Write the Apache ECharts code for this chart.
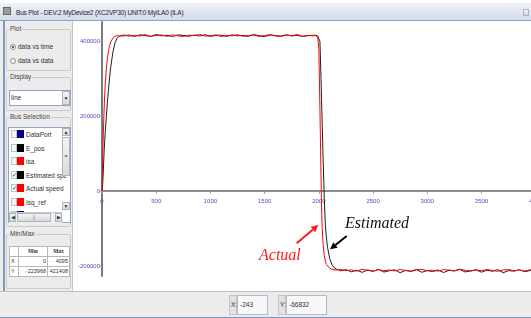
<!DOCTYPE html>
<html>
<head>
<meta charset="utf-8">
<script src="https://cdn.jsdelivr.net/npm/echarts@6/dist/echarts.min.js"></script>
<style>
html, body { margin: 0; padding: 0; width: 531px; height: 318px; overflow: hidden; background: #fff; font-family: "Liberation Sans", Arial, sans-serif; color: #333; }
.a { position: absolute; }
#title { left: 0; top: 3px; width: 531px; height: 17px; background: linear-gradient(#eef2f8, #d3dcec); border-bottom: 1px solid #8ea3c6; }
#title span { position: absolute; left: 16px; top: 6px; font-size: 6.5px; line-height: 8px; color: #222; letter-spacing: -0.2px; }
#icon { left: 3px; top: 7px; width: 8px; height: 8px; background: #9a9a9a; border: 1px solid #666; box-sizing: border-box; }
#side { left: 0; top: 21px; width: 73px; height: 270px; background: #ececec; border-right: 1px solid #c4c4c4; box-sizing: border-box; }
#edge { left: 3px; top: 21px; width: 2px; height: 297px; background: #7d98c6; }
.grp { position: absolute; border: 1px solid #cacaca; border-radius: 2px; box-sizing: border-box; }
.gt { position: absolute; background: #ececec; padding: 0 1px; font-size: 6.5px; line-height: 8px; color: #444; }
.t { position: absolute; font-size: 6.5px; line-height: 8px; color: #333; white-space: nowrap; }
.rb { position: absolute; width: 6px; height: 6px; border: 1px solid #8a8a8a; border-radius: 50%; background: #fff; box-sizing: border-box; }
.rb.on::after { content: ""; position: absolute; left: 1px; top: 1px; width: 2px; height: 2px; border-radius: 50%; background: #222; }
.box { position: absolute; background: #fff; border: 1px solid #8fa6c4; box-sizing: border-box; }
.btn { position: absolute; background: linear-gradient(#f4f4f4, #d8d8d8); border: 1px solid #a9b4c4; box-sizing: border-box; font-size: 5px; line-height: 7px; text-align: center; color: #333; }
.row { position: absolute; left: 1px; height: 13px; width: 53px; }
.cb { position: absolute; left: 1px; top: 2px; width: 6px; height: 8px; background: #f6f8fb; border: 1px solid #b8c4d4; box-sizing: border-box; font-size: 6px; line-height: 6px; color: #222; }
.sw { position: absolute; left: 7px; top: 2px; width: 7px; height: 8px; }
.row .t { left: 16px; top: 3px; }
table { border-collapse: collapse; font-size: 5.5px; }
td { border: 1px solid #b8b8b8; padding: 0 1px; height: 9px; line-height: 9px; }
#status { left: 0; top: 291px; width: 531px; height: 26px; background: #ececec; border-top: 1px solid #c0c0c0; box-sizing: border-box; }
#bottomline { left: 0; top: 317px; width: 531px; height: 1px; background: #7d98c6; }
.lab { position: absolute; top: 3px; height: 20px; background: #e2e2e2; border: 1px solid #c6c6c6; box-sizing: border-box; font-size: 6.5px; line-height: 18px; padding-left: 1px; }
.fld { position: absolute; top: 3px; height: 20px; background: #f8f8f8; border: 1px solid #a8bcd6; box-sizing: border-box; font-size: 6.5px; line-height: 18px; padding-left: 2px; }
#plotwrap { left: 73px; top: 21px; width: 458px; height: 270px; overflow: hidden; background: #fff; }
#chart { position: absolute; left: 0; top: 0; width: 480px; height: 270px; }
</style>
</head>
<body>
<div class="a" id="title"><span>Bus Plot - DEV:2 MyDevice2 (XC2VP30) UNIT:0 MyILA0 (ILA)</span></div>
<div class="a" id="icon"></div>
<div class="btn" style="left:523px;top:9px;width:6px;height:7px;"></div>

<div class="a" id="side"></div>
<div class="a" id="edge"></div>

<!-- Plot group -->
<div class="grp" style="left:6px;top:29px;width:65px;height:42px;"></div>
<div class="gt" style="left:9px;top:25px;">Plot</div>
<div class="rb on" style="left:10px;top:44px;"></div>
<div class="t" style="left:18px;top:43px;">data vs time</div>
<div class="rb" style="left:10px;top:58px;"></div>
<div class="t" style="left:18px;top:57px;">data vs data</div>

<!-- Display group -->
<div class="grp" style="left:6px;top:77px;width:65px;height:34px;"></div>
<div class="gt" style="left:9px;top:73px;">Display</div>
<div class="box" style="left:9px;top:90px;width:62px;height:16px;"></div>
<div class="t" style="left:11px;top:94px;">line</div>
<div class="btn" style="left:62px;top:91px;width:8px;height:14px;line-height:13px;">&#9660;</div>

<!-- Bus selection group -->
<div class="grp" style="left:6px;top:117px;width:65px;height:110px;"></div>
<div class="gt" style="left:9px;top:113px;">Bus Selection</div>
<div class="box" style="left:8px;top:127px;width:63px;height:96px;overflow:hidden;" id="list"></div>
<div class="btn" style="left:62px;top:128px;width:8px;height:8px;">&#9650;</div>
<div class="btn" style="left:62px;top:137px;width:8px;height:39px;line-height:36px;">=</div>
<div class="btn" style="left:62px;top:202px;width:8px;height:8px;">&#9660;</div>
<div class="a" style="left:9px;top:212px;width:53px;height:10px;background:#eef0f3;border-top:1px solid #c8c8c8;"></div>
<div class="btn" style="left:9px;top:213px;width:7px;height:9px;">&#9664;</div>
<div class="btn" style="left:17px;top:213px;width:34px;height:9px;">|</div>
<div class="btn" style="left:55px;top:213px;width:7px;height:9px;">&#9654;</div>

<!-- Min/Max group -->
<div class="grp" style="left:6px;top:234px;width:65px;height:55px;"></div>
<div class="gt" style="left:9px;top:230px;">Min/Max</div>
<div class="a" style="left:9px;top:246px;width:61px;background:#fff;">
<table style="width:61px;">
<tr style="font-family:'Liberation Serif',serif;font-weight:bold;"><td style="width:6px"></td><td style="text-align:center;width:26px">Min</td><td style="text-align:center">Max</td></tr>
<tr><td>X</td><td style="text-align:right">0</td><td style="text-align:right">4095</td></tr>
<tr><td>Y</td><td style="text-align:right">-223968</td><td style="text-align:right">421408</td></tr>
</table>
</div>

<div class="a" id="plotwrap"><div id="chart"></div></div>

<div class="a" id="status">
  <div class="lab" style="left:229px;width:8px;">X:</div>
  <div class="fld" style="left:237px;width:31px;">-243</div>
  <div class="lab" style="left:278px;width:8px;">Y:</div>
  <div class="fld" style="left:286px;width:41px;">-66832</div>
</div>
<div class="a" id="bottomline"></div>

<script>
// sample time (x) shared by both traces
const time = [
  0, 5, 10, 15, 20, 25, 30, 40, 50, 60, 70, 80, 100, 120, 140, 160,
  200, 250, 300, 350, 400, 450, 500, 550, 600, 650, 700, 750, 800, 850, 900, 950,
  1000, 1050, 1100, 1150, 1200, 1250, 1300, 1350, 1400, 1450, 1500, 1550, 1600, 1650,
  1700, 1750, 1800, 1850, 1900, 1950,
  1970, 1980, 1990, 2000, 2010, 2020, 2025, 2030, 2040, 2050, 2060, 2070, 2080, 2100,
  2120, 2140, 2160, 2180,
  2200, 2250, 2300, 2350, 2400, 2450, 2500, 2550, 2600, 2650, 2700, 2750, 2800, 2850,
  2900, 2950, 3000, 3050, 3100, 3150, 3200, 3250, 3300, 3350, 3400, 3450, 3500, 3550,
  3600, 3650, 3700, 3750, 3800, 3850, 3900, 3950, 4000, 4050, 4095
];

// Actual speed (red)
const actualSpeed = [
  0, 70000, 130000, 180000, 222000, 257000, 285000, 327000, 356000, 375000,
  389000, 398000, 408000, 413000, 415500, 414000,
  417000, 413500, 416200, 414100, 418000, 412900, 415800, 416900, 413200, 417400,
  414600, 412800, 416500, 415200, 418300, 413700, 414900, 417100, 412600, 416000,
  414300, 417800, 413400, 415600, 416700, 412900, 415300, 417600, 414000, 413100,
  416400, 415000, 417900, 413600, 414800, 416300,
  415500, 414000, 410000, 380000, 220000, 40000, -40000, -95000, -145000, -172000,
  -187000, -196000, -201000, -206000, -208500, -210000, -211000, -209500,
  -209000, -212500, -210200, -213800, -208700, -211600, -214000, -209900, -212200, -210800,
  -213300, -209300, -211900, -214500, -210400, -208900, -212700, -211200, -213600, -209700,
  -210900, -212900, -208600, -211400, -213900, -210100, -212400, -209500, -211700, -214200,
  -210600, -209200, -212800, -211000, -213400, -209800, -212100, -210500, -211300
];

// Estimated speed (black)
const estimatedSpeed = [
  0, 12000, 40000, 75000, 108000, 135000, 158000, 198000, 238000, 272000,
  303000, 330000, 370000, 396000, 408000, 414000,
  414500, 416800, 412700, 417300, 415100, 413000, 418200, 414400, 416100, 412500,
  417000, 415700, 413300, 416600, 414200, 417700, 413000, 415900, 416400, 412800,
  417200, 414700, 415500, 413200, 418000, 414900, 412600, 416900, 415300, 413800,
  417400, 414100, 416200, 412900, 415800, 414600,
  416000, 415000, 414500, 413000, 400000, 300000, 245000, 190000, 80000, -20000,
  -90000, -125000, -150000, -180000, -196000, -204000, -208000, -210500,
  -213000, -209800, -215500, -211200, -217000, -210400, -214300, -208900, -216200, -212600,
  -210100, -218000, -211800, -213900, -209500, -216800, -212200, -214700, -210700, -217400,
  -211500, -213200, -209100, -215900, -212900, -210300, -216500, -211100, -214100, -209700,
  -217800, -212400, -213600, -210000, -215200, -211900, -214800, -210600, -213100
];

const xTicks = [0, 500, 1000, 1500, 2000, 2500, 3000, 3500, 4000];
const yTicks = [-200000, 0, 200000, 400000];
const yMin = -226700, yMax = 451500;

function arrow(x1, y1, x2, y2, color) {
  const dx = x2 - x1, dy = y2 - y1, len = Math.hypot(dx, dy);
  const ux = dx / len, uy = dy / len;
  const hl = 7, hw = 3.5;
  const bx = x2 - ux * hl, by = y2 - uy * hl;
  return [
    { type: 'line', shape: { x1: x1, y1: y1, x2: bx, y2: by }, style: { stroke: color, lineWidth: 2 } },
    { type: 'polygon', shape: { points: [[x2, y2], [bx - uy * hw, by + ux * hw], [bx + uy * hw, by - ux * hw]] }, style: { fill: color } }
  ];
}

const gridTop = 1, gridBottom = 15, chartH = 270;
const gridH = chartH - gridTop - gridBottom;
// shift x axis (line, ticks, labels) up to the y = 0 level
const xOffset = -(0 - yMin) / (yMax - yMin) * gridH;

const chart = echarts.init(document.getElementById('chart'), null, { renderer: 'canvas' });
const labelColor = '#4c4cc8';

chart.setOption({
  animation: false,
  backgroundColor: '#fff',
  grid: { left: 29, right: 7, top: gridTop, bottom: gridBottom },
  xAxis: {
    type: 'value',
    min: 0,
    max: 4095,
    position: 'bottom',
    offset: xOffset,
    axisLine: { onZero: false, lineStyle: { color: '#8c8c8c', width: 2 } },
    axisTick: { show: true, customValues: xTicks, length: 3, lineStyle: { color: '#aaa' } },
    axisLabel: { customValues: xTicks, color: labelColor, fontSize: 6, margin: 7, fontFamily: 'Liberation Sans', formatter: v => String(v) },
    splitLine: { show: false }
  },
  yAxis: {
    type: 'value',
    min: yMin,
    max: yMax,
    axisLine: { show: true, onZero: false, lineStyle: { color: '#7a7a7a', width: 2 } },
    axisTick: { show: true, customValues: yTicks, length: 2, lineStyle: { color: '#aaa' } },
    axisLabel: { customValues: yTicks, color: labelColor, fontSize: 6, margin: 2, fontFamily: 'Liberation Sans', formatter: v => String(v) },
    splitLine: { show: false }
  },
  series: [
    {
      name: 'Estimated speed',
      type: 'line',
      showSymbol: false,
      data: time.map((t, i) => [t, estimatedSpeed[i]]),
      lineStyle: { color: '#1e1e1e', width: 1 },
      itemStyle: { color: '#1e1e1e' }
    },
    {
      name: 'Actual speed',
      type: 'line',
      showSymbol: false,
      data: time.map((t, i) => [t, actualSpeed[i]]),
      lineStyle: { color: '#ff0000', width: 1 },
      itemStyle: { color: '#ff0000' }
    }
  ],
  graphic: [
    { type: 'text', x: 186, y: 235, style: { text: 'Actual', font: 'italic 16px "Liberation Serif"', fill: '#ff1a1a', verticalAlign: 'middle' } },
    { type: 'text', x: 272, y: 203, style: { text: 'Estimated', font: 'italic 16px "Liberation Serif"', fill: '#111', verticalAlign: 'middle' } }
  ].concat(arrow(223.7, 222.3, 245.3, 204, '#ff1a1a'), arrow(273.7, 215, 257, 228.3, '#000'))
});

// bus list rows
const busNames = ['DataPort', 'E_pos', 'isa', 'Estimated spe', 'Actual speed', 'Isq_ref', 'Isd'];
const busColors = ['#000080', '#000000', '#ff0000', '#000000', '#ff0000', '#ff0000', '#000080'];
const busChecked = [false, false, false, true, true, false, false];
const list = document.getElementById('list');
busNames.forEach((n, i) => {
  const r = document.createElement('div');
  r.className = 'row';
  r.style.top = (i * 13.5) + 'px';
  r.innerHTML = '<div class="cb">' + (busChecked[i] ? '&#10003;' : '') + '</div>' +
    '<div class="sw" style="background:' + busColors[i] + '"></div><div class="t">' + n + '</div>';
  list.appendChild(r);
});
</script>
</body>
</html>
